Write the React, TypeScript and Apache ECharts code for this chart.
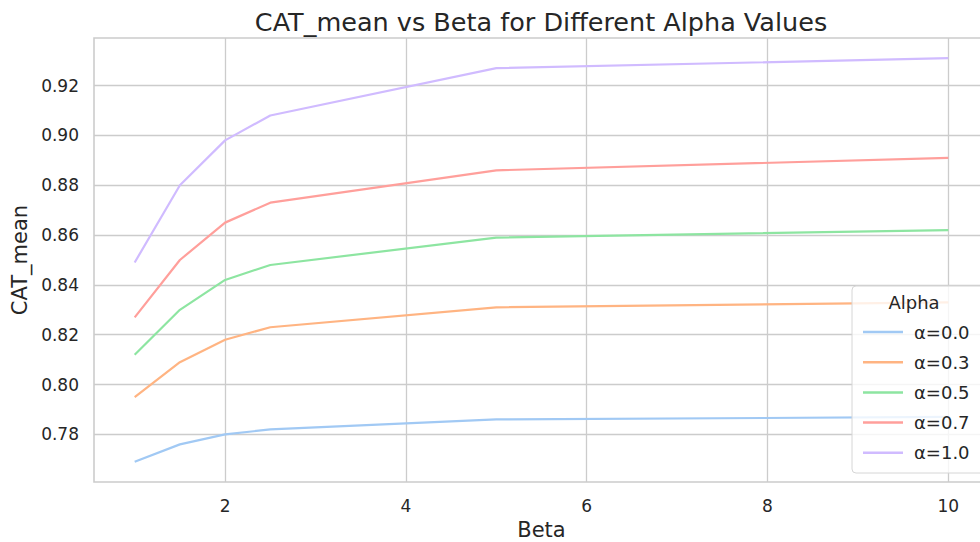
import React, { useEffect, useRef } from "react";
import * as echarts from "echarts";

const beta = [1, 1.5, 2, 2.5, 5, 10];
const alphaLabels = ["α=0.0", "α=0.3", "α=0.5", "α=0.7", "α=1.0"];
const alpha00 = [0.769, 0.776, 0.78, 0.782, 0.786, 0.787];
const alpha03 = [0.795, 0.809, 0.818, 0.823, 0.831, 0.833];
const alpha05 = [0.812, 0.83, 0.842, 0.848, 0.859, 0.862];
const alpha07 = [0.827, 0.85, 0.865, 0.873, 0.886, 0.891];
const alpha10 = [0.849, 0.88, 0.898, 0.908, 0.927, 0.931];
const xTicks = [2, 4, 6, 8, 10];
const yTicks = [0.78, 0.8, 0.82, 0.84, 0.86, 0.88, 0.9, 0.92];
const colors = ["#a1c9f4", "#ffb482", "#8de5a1", "#ff9f9b", "#d0bbff"];

const FONT = "DejaVu Sans";
const TEXT = "#262626";

export default function App() {
  const ref = useRef<HTMLDivElement>(null);
  useEffect(() => {
    if (!ref.current) return;
    const chart = echarts.init(ref.current, undefined, { renderer: "svg" });
    const all = [alpha00, alpha03, alpha05, alpha07, alpha10];
    const flat = all.flat();
    const dMin = Math.min(...flat);
    const dMax = Math.max(...flat);
    const yPad = (dMax - dMin) * 0.05;
    const xMinD = Math.min(...beta);
    const xMaxD = Math.max(...beta);
    const xPad = (xMaxD - xMinD) * 0.05;

    chart.setOption({
      animation: false,
      color: colors,
      title: {
        text: "CAT_mean vs Beta for Different Alpha Values",
        left: 536,
        textAlign: "center",
        top: 4,
        textStyle: { fontFamily: FONT, fontSize: 25.5, fontWeight: "normal", color: TEXT },
      },
      grid: {
        left: 94,
        width: 895,
        top: 38,
        height: 444,
        outerBoundsMode: "none",
        containLabel: false,
        show: true,
        borderColor: "#cccccc",
        borderWidth: 1.6,
        backgroundColor: "#ffffff",
      },
      xAxis: {
        type: "value",
        min: xMinD - xPad,
        max: xMaxD + xPad,
        name: "Beta",
        nameLocation: "middle",
        nameGap: 37,
        nameTextStyle: { fontFamily: FONT, fontSize: 21, color: TEXT },
        axisLine: { show: false },
        axisTick: { show: false, customValues: xTicks },
        axisLabel: {
          customValues: xTicks,
          fontFamily: FONT,
          fontSize: 17,
          color: TEXT,
          margin: 15,
        },
        splitLine: { show: true, lineStyle: { color: "#cccccc", width: 1.3 } },
      },
      yAxis: {
        type: "value",
        min: dMin - yPad,
        max: dMax + yPad,
        name: "CAT_mean",
        nameLocation: "middle",
        nameGap: 63,
        nameTextStyle: { fontFamily: FONT, fontSize: 21, color: TEXT },
        axisLine: { show: false },
        axisTick: { show: false, customValues: yTicks },
        axisLabel: {
          customValues: yTicks,
          formatter: (v: number) => v.toFixed(2),
          fontFamily: FONT,
          fontSize: 17,
          color: TEXT,
          margin: 15,
        },
        splitLine: { show: true, lineStyle: { color: "#cccccc", width: 1.3 } },
      },
      legend: {
        orient: "vertical",
        left: 858,
        top: 317,
        icon: "rect",
        itemWidth: 40,
        itemHeight: 2.5,
        itemGap: 10.2,
        textStyle: {
          fontFamily: FONT,
          fontSize: 18,
          color: TEXT,
          lineHeight: 20,
          padding: [0, 0, 0, 6],
        },
        data: alphaLabels,
      },
      graphic: [
        {
          type: "rect",
          z: 3,
          shape: { x: 852, y: 286, width: 140, height: 187, r: 4 },
          style: { fill: "rgba(255,255,255,0.8)", stroke: "#d6d6d6", lineWidth: 1 },
        },
        {
          type: "text",
          z: 5,
          x: 914,
          y: 302,
          style: {
            text: "Alpha",
            fontFamily: FONT,
            fontSize: 18,
            fill: TEXT,
            textAlign: "center",
            textVerticalAlign: "middle",
          },
        },
      ],
      series: all.map((vals, i) => ({
        name: alphaLabels[i],
        type: "line",
        data: beta.map((b, j) => [b, vals[j]]),
        showSymbol: false,
        symbol: "none",
        lineStyle: { width: 2.2, color: colors[i] },
        itemStyle: { color: colors[i] },
        z: 2,
      })),
    });
    return () => chart.dispose();
  }, []);
  return (
    <div
      ref={ref}
      style={{ position: "absolute", left: 0, top: 0, width: 980, height: 542 }}
    />
  );
}
